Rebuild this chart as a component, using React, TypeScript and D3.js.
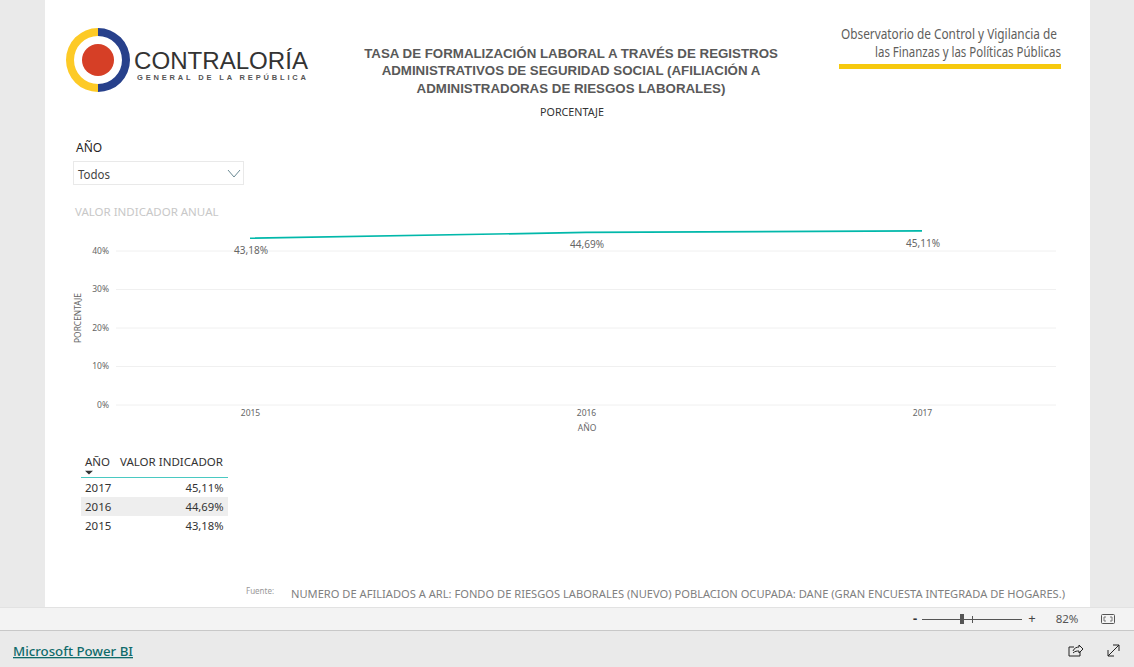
import { useRef, useEffect } from 'react';
import * as d3 from 'd3';

// Data
const years: string[] = ['2015', '2016', '2017'];
const values: number[] = [43.18, 44.69, 45.11];
const yTicks: number[] = [0, 10, 20, 30, 40];
const titleLines: string[] = [
  'TASA DE FORMALIZACIÓN LABORAL A TRAVÉS DE REGISTROS',
  'ADMINISTRATIVOS DE SEGURIDAD SOCIAL (AFILIACIÓN A',
  'ADMINISTRADORAS DE RIESGOS LABORALES)',
];
const fuente = 'NUMERO DE AFILIADOS A ARL: FONDO DE RIESGOS LABORALES (NUEVO) POBLACION OCUPADA: DANE (GRAN ENCUESTA INTEGRADA DE HOGARES.)';

const fmt = (v: number) => v.toFixed(2).replace('.', ',') + '%';
const SANS = '"Noto Sans", "Open Sans", sans-serif';
const ARIAL = '"Liberation Sans", sans-serif';

export default function App() {
  const chartRef = useRef<SVGSVGElement | null>(null);

  useEffect(() => {
    if (!chartRef.current) return;
    const svg = d3.select(chartRef.current);
    svg.selectAll('*').remove();

    const text = (x: number, y: number, s: string, size: number, fill: string, anchor = 'start', family = SANS) =>
      svg.append('text')
        .attr('x', x).attr('y', y)
        .attr('font-family', family)
        .attr('font-size', size)
        .attr('fill', fill)
        .attr('text-anchor', anchor)
        .text(s);
    const rect = (x: number, y: number, w: number, h: number, fill: string) =>
      svg.append('rect').attr('x', x).attr('y', y).attr('width', w).attr('height', h).attr('fill', fill);

    // Page background and report canvas
    rect(0, 0, 1134, 667, '#eaeaea');
    rect(45, 0, 1045, 607, '#ffffff');
    rect(0, 607, 1134, 23, '#f3f3f3');
    rect(0, 607, 1134, 1, '#e2e2e2');
    rect(0, 630, 1134, 1, '#c8c8c8');

    // Logo
    const logoArc = d3.arc<any>().innerRadius(24).outerRadius(32);
    const logo = svg.append('g').attr('transform', 'translate(98,60)');
    logo.append('path').attr('d', logoArc({ startAngle: 0, endAngle: Math.PI }) as string).attr('fill', '#27408b');
    logo.append('path').attr('d', logoArc({ startAngle: Math.PI, endAngle: 2 * Math.PI }) as string).attr('fill', '#fdca26');
    logo.append('circle').attr('r', 16).attr('fill', '#d63f26');
    text(134, 69, 'CONTRALORÍA', 23.5, '#333333', 'start', ARIAL).attr('textLength', 174).attr('lengthAdjust', 'spacingAndGlyphs');
    text(137, 79.5, 'GENERAL DE LA REPÚBLICA', 7.5, '#555555', 'start', ARIAL).attr('font-weight', 'bold').attr('textLength', 169);

    // Title
    titleLines.forEach((line, i) => {
      text(571, 58 + i * 17.3, line, 13.3, '#595959', 'middle', ARIAL).attr('font-weight', 'bold');
    });
    text(572, 116, 'PORCENTAJE', 10, '#333333', 'middle').attr('textLength', 64).attr('lengthAdjust', 'spacingAndGlyphs');

    // Observatorio header
    text(1057, 39, 'Observatorio de Control y Vigilancia de', 14, '#605e5c', 'end').attr('textLength', 216).attr('lengthAdjust', 'spacingAndGlyphs');
    text(1061, 57, 'las Finanzas y las Políticas Públicas', 14, '#605e5c', 'end').attr('textLength', 186).attr('lengthAdjust', 'spacingAndGlyphs');
    rect(839, 64, 222, 5, '#f6c90e');

    // Slicer
    text(76, 152, 'AÑO', 12, '#252423');
    svg.append('rect').attr('x', 73.5).attr('y', 161.5).attr('width', 170).attr('height', 23)
      .attr('fill', '#ffffff').attr('stroke', '#e9e9e9');
    text(78, 179, 'Todos', 12, '#444444').attr('textLength', 32).attr('lengthAdjust', 'spacingAndGlyphs');
    svg.append('path').attr('d', d3.line()([[228, 170], [234, 177], [240, 170]]) as string)
      .attr('fill', 'none').attr('stroke', '#6b8a94').attr('stroke-width', 1);

    text(75, 216, 'VALOR INDICADOR ANUAL', 11.5, '#c8c8c8');

    // Line chart
    const x = d3.scalePoint<string>().domain(years).range([250, 922]);
    const y = d3.scaleLinear().domain([0, 40]).range([404.5, 250.5]);

    const yAxis = svg.append('g')
      .attr('transform', 'translate(116,0)')
      .call(d3.axisLeft(y).tickValues(yTicks).tickSize(-940).tickPadding(7).tickFormat((d) => `${d}%`));
    yAxis.select('.domain').remove();
    yAxis.selectAll('line').attr('stroke', '#f0f0f0');
    yAxis.selectAll('text').attr('font-family', SANS).attr('font-size', 8.5).attr('fill', '#666666');

    const xAxis = svg.append('g')
      .attr('transform', 'translate(0,404.5)')
      .call(d3.axisBottom(x).tickSize(0).tickPadding(5));
    xAxis.select('.domain').remove();
    xAxis.selectAll('text').attr('font-family', SANS).attr('font-size', 8.5).attr('fill', '#666666');

    const line = d3.line<number>().x((_, i) => x(years[i]) as number).y((d) => y(d));
    svg.append('path').datum(values).attr('d', line)
      .attr('fill', 'none').attr('stroke', '#01b8aa').attr('stroke-width', 1.7);

    values.forEach((v, i) => {
      text((x(years[i]) as number) + 1, y(v) + 16, fmt(v), 10, '#666666', 'middle').attr('textLength', 34).attr('lengthAdjust', 'spacingAndGlyphs');
    });

    text(587, 431, 'AÑO', 8.5, '#666666', 'middle');
    text(0, 0, 'PORCENTAJE', 8, '#666666', 'middle')
      .attr('transform', 'translate(81,318) rotate(-90)').attr('textLength', 50).attr('lengthAdjust', 'spacingAndGlyphs');

    // Table
    const rows = years.map((yr, i) => ({ yr, v: values[i] })).reverse();
    text(85, 466, 'AÑO', 11.5, '#333333');
    text(223, 466, 'VALOR INDICADOR', 11.5, '#333333', 'end').attr('textLength', 103).attr('lengthAdjust', 'spacingAndGlyphs');
    svg.append('path').attr('d', d3.symbol(d3.symbolTriangle, 14)() as string)
      .attr('transform', 'translate(89,472) rotate(180) scale(1.4,0.75)').attr('fill', '#333333');
    rect(81, 477, 147, 1, '#4ac9c2');
    rect(81, 497, 147, 19, '#eeeeee');
    rows.forEach((r, i) => {
      const ty = 492 + i * 19;
      text(85, ty, r.yr, 11.5, '#333333');
      text(223.5, ty, fmt(r.v), 11.5, '#333333', 'end').attr('textLength', 38).attr('lengthAdjust', 'spacingAndGlyphs');
    });

    // Source
    text(246, 594, 'Fuente:', 8, '#999999');
    text(291, 598, fuente, 11.5, '#808080').attr('textLength', 774).attr('lengthAdjust', 'spacingAndGlyphs');

    // Footer bar controls
    text(915, 623, '-', 13, '#333333', 'middle').attr('font-weight', 'bold');
    rect(922, 619, 100, 1, '#555555');
    rect(960, 614, 4, 10, '#555555');
    rect(972, 616, 1, 7, '#555555');
    text(1032, 623, '+', 13, '#444444', 'middle');
    text(1067, 623, '82%', 11.5, '#555555', 'middle');
    // fit to page icon: corner brackets inside a box
    svg.append('rect').attr('x', 1101.5).attr('y', 614.5).attr('width', 13).attr('height', 9).attr('rx', 1)
      .attr('fill', 'none').attr('stroke', '#555555');
    svg.append('path').attr('d', 'M1106 617h-2v4h2M1110 617h2v4h-2')
      .attr('fill', 'none').attr('stroke', '#777777').attr('stroke-width', 1);

    text(13, 656, 'Microsoft Power BI', 13, '#0f6a6a').attr('font-weight', 500).attr('text-decoration', 'underline')
      .attr('textLength', 120).attr('lengthAdjust', 'spacingAndGlyphs');

    // Share and expand icons
    svg.append('path').attr('d', 'M1074 647h-5v9h11v-4M1073 651c1-3 4-4 6-4v-2l4 4-4 4v-2c-2 0-4 0-6 2')
      .attr('fill', 'none').attr('stroke', '#222222').attr('stroke-width', 1);
    svg.append('path').attr('d', 'M1108 656l11-11M1113 645h6v6M1108 650v6h6')
      .attr('fill', 'none').attr('stroke', '#222222').attr('stroke-width', 1);
  }, []);

  return (
    <div>
      <svg ref={chartRef} width={1134} height={667} style={{ position: 'absolute', left: 0, top: 0 }}></svg>
    </div>
  );
}
